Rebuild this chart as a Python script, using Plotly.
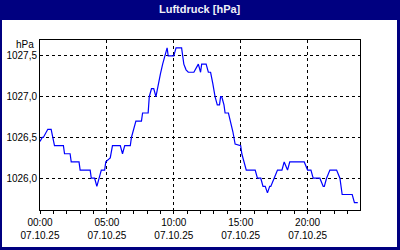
import plotly.graph_objects as go

DAY = "2025-10-07"
times = ["00:00","00:10","00:15","00:35","00:50","01:05","01:45","01:50","02:15","02:20",
         "02:55","03:00","03:45","03:50","04:05","04:15","04:30","04:35","04:50","04:55",
         "05:15","05:25","06:00","06:10","06:20","06:45","06:50","07:00","07:10","07:35",
         "07:40","08:05","08:10","08:20","08:30","08:40","08:50","09:00","09:10","09:20",
         "09:30","09:35","10:00","10:10","10:35","10:45","10:55","11:05","11:30","11:50",
         "12:00","12:05","12:25","12:35","12:45","12:55","13:05","13:15","13:25","13:30",
         "13:35","13:45","13:50","14:05","14:15","14:25","14:35","15:00","15:05","15:15",
         "15:25","16:05","16:15","16:30","16:40","16:50","17:00","17:10","17:15","17:30",
         "17:45","18:05","18:15","18:30","18:40","19:45","20:00","20:15","20:25","20:55",
         "21:10","21:15","21:25","21:40","22:10","22:25","22:35","23:20","23:30","23:45"]
pressure = [1026.45,1026.5,1026.5,1026.6,1026.6,1026.4,1026.4,1026.3,1026.3,1026.2,
            1026.2,1026.1,1026.1,1026.0,1026.0,1025.9,1026.05,1026.1,1026.1,1026.2,
            1026.25,1026.4,1026.4,1026.3,1026.4,1026.4,1026.5,1026.62,1026.7,1026.7,
            1026.8,1026.8,1027.0,1027.1,1027.1,1027.0,1027.16,1027.28,1027.4,1027.5,
            1027.6,1027.5,1027.5,1027.6,1027.6,1027.4,1027.33,1027.3,1027.3,1027.4,
            1027.3,1027.4,1027.4,1027.3,1027.3,1027.16,1027.0,1026.9,1026.9,1027.0,
            1027.0,1026.9,1026.8,1026.8,1026.7,1026.57,1026.42,1026.4,1026.3,1026.2,
            1026.1,1026.1,1026.0,1026.0,1025.9,1025.9,1025.82,1025.9,1025.9,1026.0,
            1026.1,1026.1,1026.2,1026.1,1026.2,1026.2,1026.1,1026.1,1026.0,1026.0,
            1025.9,1025.9,1026.0,1026.1,1026.1,1026.0,1025.8,1025.8,1025.7,1025.7]
assert len(times) == len(pressure)

tick_times = ["00:00", "05:00", "10:00", "15:00", "20:00"]
tick_date = "07.10.25"
y_ticks = [1026.0, 1026.5, 1027.0, 1027.5]
y_labels = ["1026,0", "1026,5", "1027,0", "1027,5"]
title = "Luftdruck [hPa]"
unit = "hPa"

x = [f"{DAY} {t}" for t in times]
FONT = "Liberation Sans, Arial, sans-serif"
NAVY = "#000080"
FS = 10

fig = go.Figure(go.Scatter(x=x, y=pressure, mode="lines",
                           line=dict(color="#0000FF", width=1.2), hoverinfo="skip"))

W, H, L, R, T, B = 400, 250, 40, 40, 40, 40
pw, ph = W - L - R, H - T - B
def px(xp): return (xp - L) / pw
def py(yp): return (H - B - yp) / ph

fig.update_layout(
    width=W, height=H, margin=dict(l=L, r=R, t=T, b=B),
    paper_bgcolor="white", plot_bgcolor="white", showlegend=False,
    font=dict(family=FONT, size=FS, color="black"),
    xaxis=dict(
        type="date", range=[f"{DAY} 00:00", f"{DAY} 23:55"], automargin=False,
        tickvals=[f"{DAY} {t}" for t in tick_times],
        ticktext=[f"{t}<br>{tick_date}" for t in tick_times],
        showgrid=True, gridcolor="black", gridwidth=1, griddash="3px,3px",
        showline=True, linecolor="black", linewidth=1, mirror=True,
        ticks="outside", ticklen=3, tickcolor="black", tickwidth=1,
        minor=dict(ticks="outside", ticklen=3, tickcolor="black", dtick=3600000,
                   tick0=f"{DAY} 00:00", showgrid=False),
        zeroline=False, tickfont=dict(size=FS, family=FONT, color="black"),
    ),
    yaxis=dict(
        range=[1025.61, 1027.696], automargin=False,
        tickvals=y_ticks, ticktext=y_labels, ticklabelstandoff=0,
        showgrid=True, gridcolor="black", gridwidth=1, griddash="3px,3px",
        showline=True, linecolor="black", linewidth=1, mirror=True,
        ticks="", zeroline=False, tickfont=dict(size=FS, family=FONT, color="black"),
    ),
    shapes=[
        dict(type="rect", xref="paper", yref="paper", x0=px(0), x1=px(400), y0=py(20), y1=py(0),
             fillcolor=NAVY, line=dict(width=0), layer="above"),
        dict(type="rect", xref="paper", yref="paper", x0=px(0), x1=px(2), y0=py(250), y1=py(0),
             fillcolor=NAVY, line=dict(width=0), layer="above"),
        dict(type="rect", xref="paper", yref="paper", x0=px(397), x1=px(400), y0=py(250), y1=py(0),
             fillcolor=NAVY, line=dict(width=0), layer="above"),
        dict(type="rect", xref="paper", yref="paper", x0=px(0), x1=px(400), y0=py(250), y1=py(247),
             fillcolor=NAVY, line=dict(width=0), layer="above"),
    ],
    annotations=[
        dict(text=f"<b>{title}</b>", xref="paper", yref="paper", x=0.5, y=py(9.5),
             xanchor="center", yanchor="middle", showarrow=False,
             font=dict(family=FONT, size=11, color="#F0F0F8")),
        dict(text=unit, xref="paper", yref="paper", x=px(36), y=py(44),
             xanchor="right", yanchor="middle", showarrow=False,
             font=dict(family=FONT, size=FS, color="black")),
    ],
)

fig.write_html("out.html")
